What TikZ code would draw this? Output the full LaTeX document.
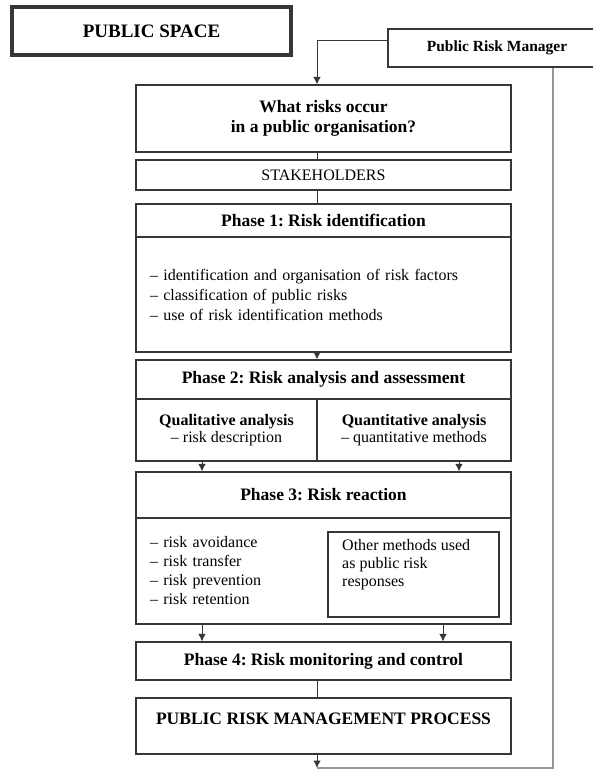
\documentclass[tikz,border=0pt]{standalone}
\usepackage{fontspec}
\setmainfont{Liberation Serif}
\usepackage{xcolor}
\usetikzlibrary{arrows.meta,positioning,calc}
\definecolor{boxline}{RGB}{55,55,55}
\definecolor{backline}{RGB}{150,150,150}
\frenchspacing
\tikzset{
  box/.style={draw=boxline, line width=1.1pt, rectangle, inner sep=0pt, minimum width=375pt},
  hdr/.style={font=\bfseries\fontsize{17.5}{20}\selectfont},
  txt/.style={font=\fontsize{16}{20}\selectfont},
  arr/.style={draw=boxline, line width=1pt, -{Latex[length=7.5pt,width=7.5pt]}},
  lnk/.style={draw=boxline, line width=1pt},
  back/.style={draw=backline, line width=1.2pt}}

\begin{document}
\begin{tikzpicture}[x=1pt,y=-1pt]
\useasboundingbox (0,0) rectangle (593,772);

\coordinate (mid) at (317,0);
\coordinate (colL) at (202,0);
\coordinate (colR) at (459,0);
\coordinate (colR2) at (443,0);
\coordinate (fbx) at (553,0);
\coordinate (fb1) at (317,768);

\node[box, line width=3.5pt, minimum width=279pt, minimum height=48pt, font=\bfseries\fontsize{19}{22}\selectfont] (space) at (151.5,31) {PUBLIC SPACE};
\node[box, minimum width=218pt, minimum height=38pt, font=\bfseries\fontsize{15.5}{18}\selectfont] (prm) at (497,48) {Public Risk Manager};

\node[box, minimum height=67pt, hdr, align=center] (what) at (323.5,118.5) {What risks occur\\ in a public organisation?};
\node[box, minimum height=30pt, txt] (stake) at (323.5,175) {STAKEHOLDERS};

\node[box, minimum height=33pt, hdr] (ph1h) at (323.5,220.5) {Phase 1: Risk identification};
\node[box, minimum height=115pt, txt, text width=347pt, align=left] (ph1b) at (323.5,294.5) {-- identification and organisation of risk factors\\ -- classification of public risks\\ -- use of risk identification methods};

\node[box, minimum height=39pt, hdr] (ph2h) at (323.5,379.5) {Phase 2: Risk analysis and assessment};
\node[box, minimum width=181pt, minimum height=62pt, font=\fontsize{16}{17.5}\selectfont, align=center] (qual) at (226.5,430) {\textbf{Qualitative analysis}\\ -- risk description};
\node[box, minimum width=194pt, minimum height=62pt, font=\fontsize{16}{17.5}\selectfont, align=center] (quant) at (414,430) {\textbf{Quantitative analysis}\\ -- quantitative methods};

\node[box, minimum height=46pt, hdr] (ph3h) at (323.5,495) {Phase 3: Risk reaction};
\node[box, minimum height=106pt, font=\fontsize{16}{19}\selectfont, text width=347pt, align=left] (ph3b) at (323.5,571) {-- risk avoidance\\ -- risk transfer\\ -- risk prevention\\ -- risk retention};
\node[box, minimum width=171pt, minimum height=85pt] (other) at (413.5,574.5) {};
\node[font=\fontsize{16}{18}\selectfont, align=left, anchor=north west, inner sep=0pt] (othertxt) at (342,539) {Other methods used\\ as public risk\\ responses};

\node[box, minimum height=38pt, hdr] (ph4) at (323.5,661) {Phase 4: Risk monitoring and control};
\node[box, minimum height=56pt] (prmp) at (323.5,726) {};
\node[hdr] (prmptxt) at (323.5,719) {PUBLIC RISK MANAGEMENT PROCESS};

\draw[arr] ($(prm.north west)!0.32!(prm.south west)$) -| (what.north -| mid);
\draw[lnk] (what.south -| mid) -- (stake.north -| mid);
\draw[lnk] (stake.south -| mid) -- (ph1h.north -| mid);
\draw[arr] (ph1b.south -| mid) -- (ph2h.north -| mid);
\draw[arr] (qual.south -| colL) -- (ph3h.north -| colL);
\draw[arr] (quant.south -| colR) -- (ph3h.north -| colR);
\draw[arr] (ph3b.south -| colL) -- (ph4.north -| colL);
\draw[arr] (ph3b.south -| colR2) -- (ph4.north -| colR2);
\draw[lnk] (ph4.south -| mid) -- (prmp.north -| mid);
\draw[arr] (prmp.south -| mid) -- (fb1);

\draw[back] (fb1) -| (prm.south -| fbx);
\end{tikzpicture}
\end{document}
